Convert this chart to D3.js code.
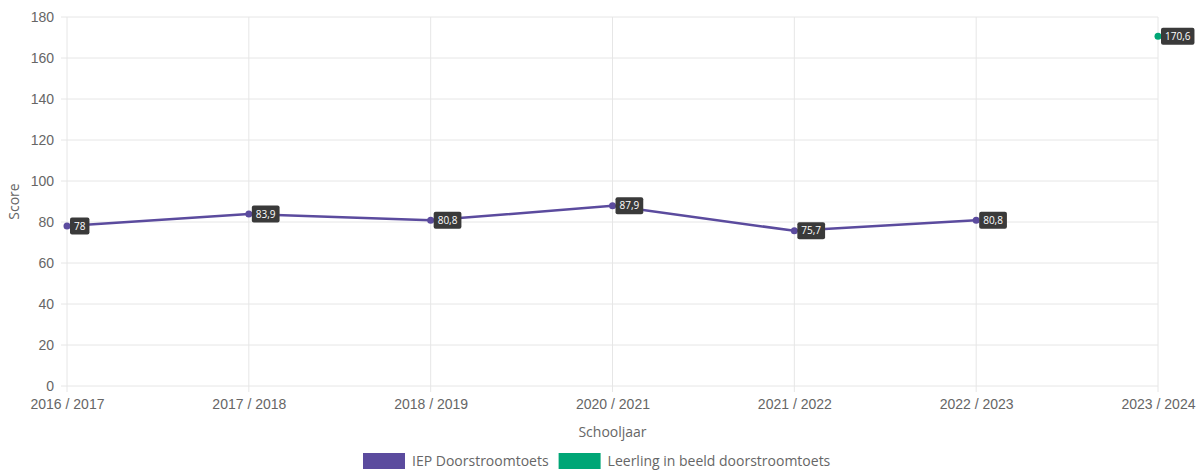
<!DOCTYPE html>
<html>
<head>
<meta charset="utf-8">
<script src="https://cdn.jsdelivr.net/npm/d3@7"></script>
<style>
  body { margin: 0; background: #fff; }
  svg { font-family: "Open Sans", sans-serif; }
</style>
</head>
<body>
<div id="chart"></div>
<script>
var schooljaren = ['2016 / 2017', '2017 / 2018', '2018 / 2019', '2020 / 2021', '2021 / 2022', '2022 / 2023', '2023 / 2024'];
var iepScores = [78, 83.9, 80.8, 87.9, 75.7, 80.8, null];
var leerlingScores = [null, null, null, null, null, null, 170.6];
var yTicks = [0, 20, 40, 60, 80, 100, 120, 140, 160, 180];

var series = [
  { name: 'IEP Doorstroomtoets', color: '#5b4b9e', values: iepScores },
  { name: 'Leerling in beeld doorstroomtoets', color: '#00a676', values: leerlingScores }
];

var w = 1199, h = 473;
var margin = { top: 17, right: 41, bottom: 87, left: 67 };

var svg = d3.select('#chart').append('svg')
  .attr('width', w).attr('height', h);

var x = d3.scalePoint().domain(schooljaren)
  .range([margin.left, w - margin.right]);
var y = d3.scaleLinear().domain([0, 180])
  .range([h - margin.bottom, margin.top]);

// grid
svg.append('g').selectAll('line').data(yTicks).enter().append('line')
  .attr('x1', margin.left - 6).attr('x2', w - margin.right)
  .attr('y1', function(d){ return y(d); }).attr('y2', function(d){ return y(d); })
  .attr('stroke', '#e6e6e6').attr('stroke-width', 1);

svg.append('g').selectAll('line').data(schooljaren).enter().append('line')
  .attr('x1', function(d){ return x(d); }).attr('x2', function(d){ return x(d); })
  .attr('y1', margin.top).attr('y2', h - margin.bottom + 6)
  .attr('stroke', '#e6e6e6').attr('stroke-width', 1);

// axes (labels only, lines drawn as grid)
var yAxis = svg.append('g')
  .attr('transform', 'translate(' + (margin.left - 6) + ',0)')
  .call(d3.axisLeft(y).tickValues(yTicks).tickSize(0).tickPadding(7));
yAxis.select('.domain').remove();
yAxis.selectAll('text').attr('fill', '#666').style('font-size', '14px');

var xAxis = svg.append('g')
  .attr('transform', 'translate(0,' + (h - margin.bottom) + ')')
  .call(d3.axisBottom(x).tickSize(0).tickPadding(13));
xAxis.select('.domain').remove();
xAxis.selectAll('text').attr('fill', '#666').style('font-size', '14px');

svg.append('text')
  .attr('transform', 'translate(19,' + ((margin.top + h - margin.bottom) / 2) + ') rotate(-90)')
  .attr('text-anchor', 'middle').attr('fill', '#666').style('font-size', '14px')
  .text('Score');

svg.append('text')
  .attr('x', (margin.left + w - margin.right) / 2).attr('y', 437)
  .attr('text-anchor', 'middle').attr('fill', '#666').style('font-size', '14px')
  .text('Schooljaar');

// lines and points
var line = d3.line()
  .defined(function(d){ return d.v != null; })
  .x(function(d){ return x(d.k); })
  .y(function(d){ return y(d.v); });

var fmt = function(v){ return String(v).replace('.', ','); };

series.forEach(function(s){
  var pts = schooljaren.map(function(k, i){ return { k: k, v: s.values[i] }; });
  svg.append('path').datum(pts)
    .attr('d', line).attr('fill', 'none')
    .attr('stroke', s.color).attr('stroke-width', 2.5);

  var valid = pts.filter(function(d){ return d.v != null; });
  svg.append('g').selectAll('circle').data(valid).enter().append('circle')
    .attr('cx', function(d){ return x(d.k); })
    .attr('cy', function(d){ return y(d.v); })
    .attr('r', 3.5).attr('fill', s.color);

  var lab = svg.append('g').selectAll('g').data(valid).enter().append('g')
    .attr('transform', function(d){ return 'translate(' + (x(d.k) + 3) + ',' + y(d.v) + ')'; });
  lab.each(function(d){
    var g = d3.select(this);
    var t = g.append('text').attr('x', 4).attr('y', 3.5)
      .attr('fill', '#fff').style('font-size', '10px').text(fmt(d.v));
    var bw = t.node().getComputedTextLength() + 8;
    g.insert('rect', 'text').attr('x', 0).attr('y', -8.5)
      .attr('width', bw).attr('height', 17).attr('rx', 2)
      .attr('fill', '#3a3a3a');
  });
});

// legend
var legend = svg.append('g').attr('transform', 'translate(363,453)');
var lx = 0;
series.forEach(function(s){
  var g = legend.append('g').attr('transform', 'translate(' + lx + ',0)');
  g.append('rect').attr('width', 42).attr('height', 16).attr('fill', s.color);
  var t = g.append('text').attr('x', 49).attr('y', 13)
    .attr('fill', '#666').style('font-size', '14px').text(s.name);
  lx += 49 + t.node().getComputedTextLength() + 10;
});
</script>
</body>
</html>
